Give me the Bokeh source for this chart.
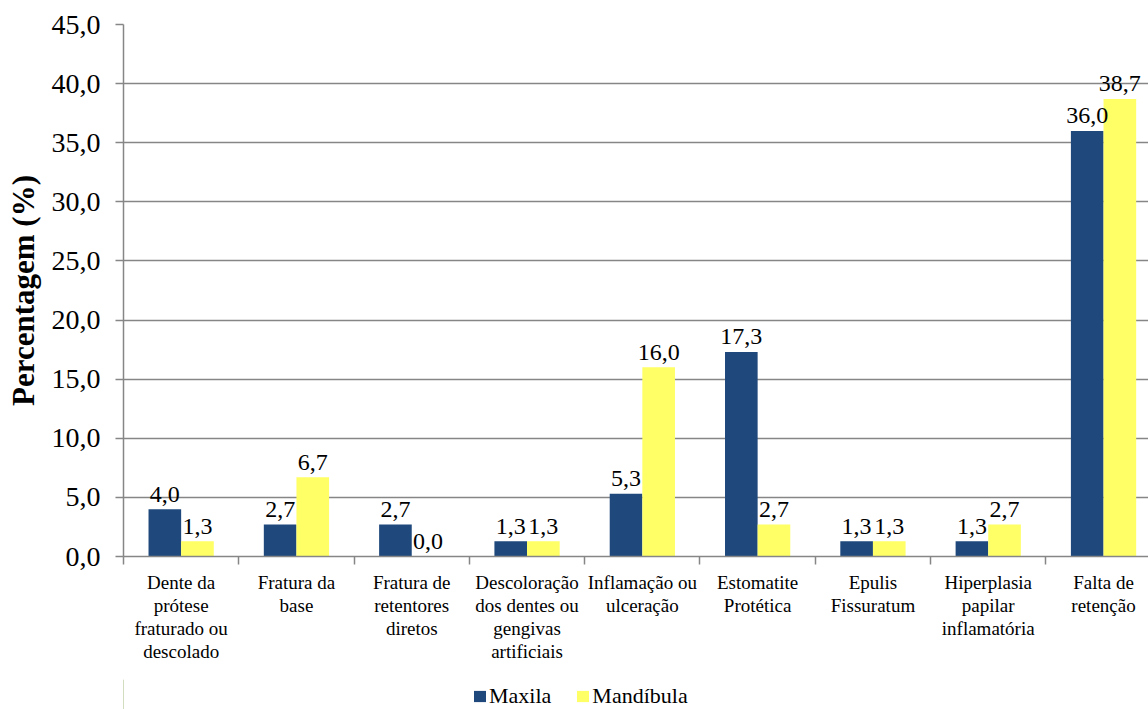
from bokeh.plotting import figure
from bokeh.layouts import column
from bokeh.models import ColumnDataSource, FixedTicker, Legend, LegendItem, Range1d
from bokeh.core.properties import value
from bokeh.embed import file_html
from bokeh.resources import INLINE

categories = [
    "Dente da\nprótese\nfraturado ou\ndescolado",
    "Fratura da\nbase",
    "Fratura de\nretentores\ndiretos",
    "Descoloração\ndos dentes ou\ngengivas\nartificiais",
    "Inflamação ou\nulceração",
    "Estomatite\nProtética",
    "Epulis\nFissuratum",
    "Hiperplasia\npapilar\ninflamatória",
    "Falta de\nretenção",
]
maxila = [4.0, 2.7, 2.7, 1.3, 5.3, 17.3, 1.3, 1.3, 36.0]
mandibula = [1.3, 6.7, 0.0, 1.3, 16.0, 2.7, 1.3, 2.7, 38.7]
series_names = ["Maxila", "Mandíbula"]
y_ticks = [0, 5, 10, 15, 20, 25, 30, 35, 40, 45]
y_tick_labels = ["0,0", "5,0", "10,0", "15,0", "20,0", "25,0", "30,0", "35,0", "40,0", "45,0"]

BLUE = "#1F497D"
YELLOW = "#FFFF66"
GRID = "#868686"
FONT = "Liberation Serif"
BW = 0.283

n = len(categories)
centers = [i + 0.5 for i in range(n)]
fmt = lambda v: f"{v:.1f}".replace(".", ",")

src_a = ColumnDataSource(dict(x=[c - BW / 2 for c in centers], y=maxila, lab=[fmt(v) for v in maxila]))
src_b = ColumnDataSource(dict(x=[c + BW / 2 for c in centers], y=mandibula, lab=[fmt(v) for v in mandibula]))

p = figure(frame_width=1025, frame_height=532, output_backend="svg", toolbar_location=None,
           x_range=Range1d(0, 8.89), y_range=Range1d(0, 45))
p.min_border_left = 123
p.min_border_top = 24
p.min_border_right = 0
p.min_border_bottom = 123
p.outline_line_color = None
p.background_fill_color = "white"
p.border_fill_color = "white"

r1 = p.vbar(x="x", top="y", width=BW, source=src_a, fill_color=BLUE, line_color=None)
r2 = p.vbar(x="x", top="y", width=BW, source=src_b, fill_color=YELLOW, line_color=None)

for s in (src_a, src_b):
    p.text(x="x", y="y", text="lab", source=s, text_align="center", text_baseline="alphabetic",
           y_offset=-15, text_font=value(FONT), text_font_size="24px", text_color="black")

# y axis
p.yaxis.ticker = FixedTicker(ticks=y_ticks)
p.yaxis.major_label_overrides = {t: l for t, l in zip(y_ticks, y_tick_labels)}
p.yaxis.major_label_text_font = FONT
p.yaxis.major_label_text_font_size = "28px"
p.yaxis.major_label_text_color = "black"
p.yaxis.major_label_standoff = 15
p.yaxis.major_tick_out = 8
p.yaxis.major_tick_in = 0
p.yaxis.minor_tick_line_color = None
p.yaxis.major_tick_line_color = GRID
p.yaxis.major_tick_line_width = 1.5
p.yaxis.axis_line_color = GRID
p.yaxis.axis_line_width = 1.5
p.yaxis.axis_label = "Percentagem (%)"
p.yaxis.axis_label_text_font = FONT
p.yaxis.axis_label_text_font_size = "31px"
p.yaxis.axis_label_text_font_style = "bold"
p.yaxis.axis_label_text_color = "black"
p.yaxis.axis_label_standoff = 8

# x axis
p.xaxis.ticker = FixedTicker(ticks=centers, minor_ticks=list(range(n + 1)))
p.xaxis.major_label_overrides = {c: l for c, l in zip(centers, categories)}
p.xaxis.major_label_text_font = FONT
p.xaxis.major_label_text_font_size = "19px"
p.xaxis.major_label_text_color = "black"
p.xaxis.major_label_text_line_height = 1.1
p.xaxis.major_tick_line_color = None
p.xaxis.major_tick_out = 0
p.xaxis.major_tick_in = 0
p.xaxis.major_label_standoff = 7
p.xaxis.minor_tick_line_color = GRID
p.xaxis.minor_tick_line_width = 1.5
p.xaxis.minor_tick_out = 8
p.xaxis.minor_tick_in = 0
p.xaxis.axis_line_color = GRID
p.xaxis.axis_line_width = 1.5

p.xgrid.grid_line_color = None
p.ygrid.ticker = FixedTicker(ticks=y_ticks)
p.ygrid.grid_line_color = GRID
p.ygrid.grid_line_width = 1.5

# legend strip below the chart (its bars sit outside the visible range)
lg = figure(width=1148, height=30, output_backend="svg", toolbar_location=None,
            x_range=Range1d(0, 1), y_range=Range1d(0, 1),
            x_axis_location=None, y_axis_location=None)
lg.min_border_left = 0
lg.min_border_right = 0
lg.min_border_top = 0
lg.min_border_bottom = 0
lg.outline_line_color = None
lg.background_fill_color = None
lg.border_fill_color = None
lg.xgrid.grid_line_color = None
lg.ygrid.grid_line_color = None
hidden = ColumnDataSource(dict(x=[-10.0], y=[1.0]))
g1 = lg.vbar(x="x", top="y", width=0.1, source=hidden, fill_color=BLUE, line_color=None)
g2 = lg.vbar(x="x", top="y", width=0.1, source=hidden, fill_color=YELLOW, line_color=None)

legend = Legend(items=[LegendItem(label=series_names[0], renderers=[g1]),
                       LegendItem(label=series_names[1], renderers=[g2])],
                orientation="horizontal", location=(349, 0),
                label_text_font=FONT, label_text_font_size="22px", label_text_color="black",
                glyph_width=15, glyph_height=14, label_standoff=2, spacing=24, label_height=16,
                border_line_color=None, background_fill_alpha=0, padding=0, margin=0)
lg.add_layout(legend, "center")

layout = column(p, lg, spacing=0)
open("out.html", "w").write(file_html(layout, INLINE))
